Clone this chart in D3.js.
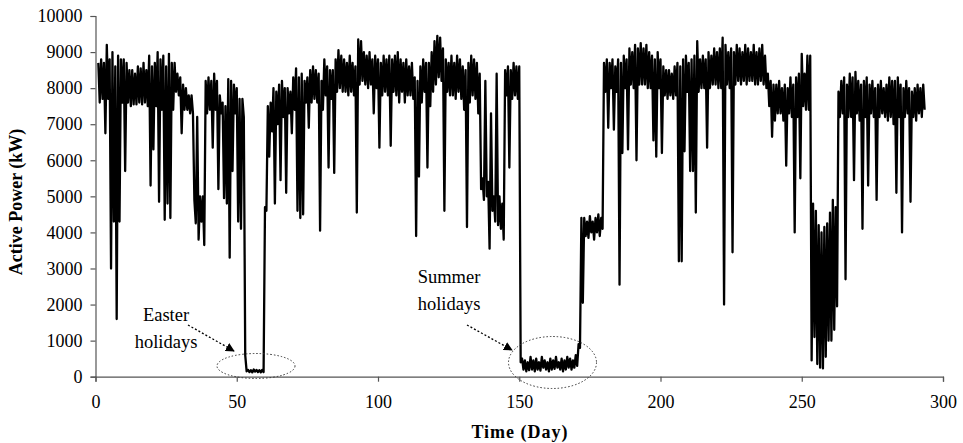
<!DOCTYPE html>
<html>
<head>
<meta charset="utf-8">
<script src="https://cdn.jsdelivr.net/npm/d3@7"></script>
<style>
  body { margin: 0; background: #fff; }
  text { font-family: "Liberation Serif", "Times New Roman", serif; fill: #000; }
</style>
</head>
<body>
<div id="d3-container"></div>
<script>
// Daily max / min of the active power (kW), first day = 1
const firstDay = 1
const dayHigh = [
    8700, 8800, 8700, 9200, 8800, 9000, 8600, 8900, 8800, 8800,
    8700, 8500, 8500, 8400, 8600, 8550, 8700, 8500, 8900, 8600,
    8700, 9000, 8800, 8900, 8600, 8950, 8700, 8700, 8400, 8300,
    8100, 8000, 7800, 7800, 4900, 7200, 5000, 5000, 8200, 8300,
    8200, 8400, 8200, 7800, 7600, 7500, 8250, 8200, 8100, 8000,
    7700, 7700, 600, 190, 180, 200, 190, 180, 190, 4700,
    7500, 7600, 8000, 7900, 8100, 8200, 8000, 8000, 7900, 8300,
    8550, 8300, 8400, 8200, 8300, 8500, 8600, 8500, 8400, 8200,
    8800, 8600, 8500, 8500, 8800, 9050, 8900, 8800, 8700, 8900,
    8700, 8600, 9350, 9300, 9000, 8900, 9000, 8800, 8900, 8800,
    8700, 8900, 8800, 8900, 8800, 8900, 9000, 8800, 8700, 8800,
    8600, 8700, 8300, 8200, 8600, 8800, 8700, 8700, 9000, 9300,
    9450, 9400, 9100, 8800, 8700, 8900, 8700, 8900, 8800, 8600,
    8500, 8700, 8900, 8800, 8700, 8400, 5500, 8200, 5400, 7300,
    5000, 8400, 5000, 4800, 8500, 8600, 8500, 8700, 8600, 8600,
    500, 450, 400, 550, 450, 500, 400, 550, 450, 400,
    500, 450, 550, 400, 500, 450, 550, 500, 450, 600,
    900, 4400, 4400, 4300, 4450, 4300, 4400, 4500, 4400, 8700,
    8800, 8700, 8800, 8600, 8800, 8700, 8900, 8800, 9100, 9000,
    9200, 9100, 9250, 9100, 9200, 9000, 8900, 8800, 9000, 8800,
    8600, 8500, 8500, 8400, 8600, 8700, 8600, 8800, 8900, 8700,
    8800, 8900, 9300, 8800, 8900, 8800, 9000, 8900, 9100, 9000,
    9100, 9400, 9200, 9000, 9100, 9000, 9200, 9100, 9000, 9200,
    9100, 9000, 9200, 9000, 9100, 9200, 8900, 8400, 8200, 8100,
    8100, 8200, 8000, 8100, 8000, 8300, 8100, 8300, 8400, 8950,
    8400, 8900, 8900, 4800, 4600, 4200, 4000, 4150, 4250, 4550,
    4900, 4700, 7900, 8200, 8300, 8100, 8400, 8300, 8450, 8200,
    8100, 8200, 8300, 8100, 8200, 8000, 8100, 8200, 8000, 8100,
    8300, 8200, 8200, 8300, 8100, 8000, 8200, 8000, 7900, 8000,
    8100, 8000, 8100
]
const dayLow = [
    7600, 7700, 6750, 7700, 3000, 4300, 1600, 4300, 7600, 5700,
    7600, 7500, 7550, 7550, 7600, 7550, 7600, 7500, 5300, 6300,
    7500, 4850, 7400, 4350, 4800, 4400, 7400, 7900, 7800, 6750,
    7400, 7400, 7300, 7300, 4250, 3800, 4300, 3650, 7300, 7400,
    6350, 7400, 5200, 7300, 4950, 4800, 3300, 5700, 7300, 4300,
    4100, 7200, 150, 130, 120, 140, 130, 120, 130, 4600,
    6100, 6800, 4800, 7000, 5450, 7200, 5100, 7300, 6750, 7400,
    4600, 4400, 4500, 7600, 6900, 7600, 7700, 7600, 4050, 7400,
    7800, 5800, 7700, 5650, 7900, 8000, 7900, 7900, 7800, 7900,
    7800, 4550, 8100, 8200, 8100, 8000, 8100, 7300, 8000, 6350,
    7800, 7900, 7800, 6400, 7900, 7800, 7600, 7900, 7600, 7800,
    7800, 7700, 3900, 5550, 7600, 7900, 5800, 7500, 7900, 8100,
    8300, 8200, 4600, 7900, 7800, 7800, 7700, 7900, 7700, 7400,
    4150, 7600, 7800, 7700, 7300, 5200, 4900, 5000, 3550, 4600,
    4300, 4200, 4100, 3800, 7800, 5800, 7700, 7800, 7700, 400,
    200, 150, 180, 200, 150, 200, 170, 250, 200, 150,
    200, 220, 250, 200, 150, 200, 250, 200, 250, 300,
    800, 2050, 3900, 3850, 4000, 3800, 4000, 3900, 4100, 7900,
    6900, 8000, 6850, 7900, 2550, 6200, 8000, 6300, 8100, 8000,
    6000, 8100, 8100, 8100, 8000, 8000, 6550, 6100, 8000, 6200,
    7800, 7700, 7800, 7700, 7800, 3200, 3200, 6250, 7900, 5700,
    5700, 4550, 7900, 8000, 8000, 6350, 8000, 8100, 8100, 8000,
    8000, 2000, 8100, 8000, 3450, 8100, 8200, 8100, 8200, 8100,
    8200, 8200, 8100, 8100, 8200, 8100, 8000, 7500, 6650, 7100,
    7300, 7300, 7100, 5850, 7300, 7200, 4000, 7200, 5500, 7500,
    7400, 7400, 450, 1100, 350, 250, 230, 550, 1000, 1000,
    1300, 1950, 7200, 7300, 2700, 7200, 7200, 5450, 7300, 7100,
    4100, 7200, 5300, 7300, 7200, 4900, 7200, 7300, 7200, 7100,
    7200, 7000, 5100, 7200, 4000, 7200, 7300, 4850, 7200, 7100,
    7300, 7200, 7400
]
const xTicks = [0, 50, 100, 150, 200, 250, 300]
const yTicks = [0, 1000, 2000, 3000, 4000, 5000, 6000, 7000, 8000, 9000, 10000]

const width = 963
const height = 443
const margin = { left: 95.5, right: 20, top: 16, bottom: 66.3 }

const svg = d3.select('#d3-container')
    .append('svg')
    .attr('width', width)
    .attr('height', height)

// Scales
const xScale = d3.scaleLinear()
    .domain([0, 300])
    .range([margin.left, width - margin.right])
const yScale = d3.scaleLinear()
    .domain([0, 10000])
    .range([height - margin.bottom, margin.top])

// Series: high at the day, low half a day later
const points = []
dayHigh.forEach((v, i) => {
    points.push([firstDay + i, v])
    points.push([firstDay + i + 0.5, dayLow[i]])
})

const line = d3.line()
    .x(d => xScale(d[0]))
    .y(d => yScale(d[1]))

svg.append('path')
    .datum(points)
    .attr('d', line)
    .attr('fill', 'none')
    .attr('stroke', '#000')
    .attr('stroke-width', 2.3)
    .attr('stroke-linejoin', 'round')

// Axes
const yAxis = d3.axisLeft(yScale).tickValues(yTicks).tickFormat(d3.format('d')).tickSize(5).tickPadding(8)
const xAxis = d3.axisBottom(xScale).tickValues(xTicks).tickFormat(d3.format('d')).tickSize(5).tickPadding(14)

const gy = svg.append('g')
    .attr('transform', 'translate(' + margin.left + ',0)')
    .call(yAxis)
const gx = svg.append('g')
    .attr('transform', 'translate(0,' + (height - margin.bottom) + ')')
    .call(xAxis)

;[gx, gy].forEach(g => {
    g.select('.domain').attr('stroke', '#555').attr('stroke-width', 1.2)
    g.selectAll('.tick line').attr('stroke', '#555').attr('stroke-width', 1.2)
    g.selectAll('.tick text')
        .attr('font-size', 18)
        .attr('font-family', '"Liberation Serif", "Times New Roman", serif')
        .attr('fill', '#000')
})

// Axis titles
svg.append('text')
    .attr('x', 520)
    .attr('y', 438)
    .attr('text-anchor', 'middle')
    .attr('font-size', 18)
    .attr('font-weight', 'bold')
    .attr('letter-spacing', 1)
    .text('Time (Day)')

svg.append('text')
    .attr('transform', 'translate(22,202) rotate(-90)')
    .attr('text-anchor', 'middle')
    .attr('font-size', 18)
    .attr('font-weight', 'bold')
    .text('Active Power (kW)')

// Annotations
const defs = svg.append('defs')
defs.append('marker')
    .attr('id', 'arrow')
    .attr('viewBox', '0 0 10 10')
    .attr('refX', 9)
    .attr('refY', 5)
    .attr('markerWidth', 9)
    .attr('markerHeight', 9)
    .attr('markerUnits', 'userSpaceOnUse')
    .attr('orient', 'auto')
    .append('path')
    .attr('d', 'M0,0 L10,5 L0,10 Z')
    .attr('fill', '#000')

const notes = [
    { lines: ['Easter', 'holidays'], tx: 166, ty: 315, from: [188, 325], to: [234, 351], ell: [256, 366, 39, 12.5] },
    { lines: ['Summer', 'holidays'], tx: 449, ty: 277, from: [467, 325], to: [512, 350], ell: [552.5, 362.5, 44, 26] }
]

notes.forEach(n => {
    n.lines.forEach((t, i) => {
        svg.append('text')
            .attr('x', n.tx)
            .attr('y', n.ty + i * 26.5)
            .attr('dy', '0.35em')
            .attr('text-anchor', 'middle')
            .attr('font-size', 18.5)
            .text(t)
    })
    svg.append('line')
        .attr('x1', n.from[0]).attr('y1', n.from[1])
        .attr('x2', n.to[0]).attr('y2', n.to[1])
        .attr('stroke', '#000')
        .attr('stroke-width', 1.3)
        .attr('stroke-dasharray', '2,2')
        .attr('marker-end', 'url(#arrow)')
    svg.append('ellipse')
        .attr('cx', n.ell[0]).attr('cy', n.ell[1])
        .attr('rx', n.ell[2]).attr('ry', n.ell[3])
        .attr('fill', 'none')
        .attr('stroke', '#333')
        .attr('stroke-width', 1)
        .attr('stroke-dasharray', '1.5,2')
})
</script>
</body>
</html>
